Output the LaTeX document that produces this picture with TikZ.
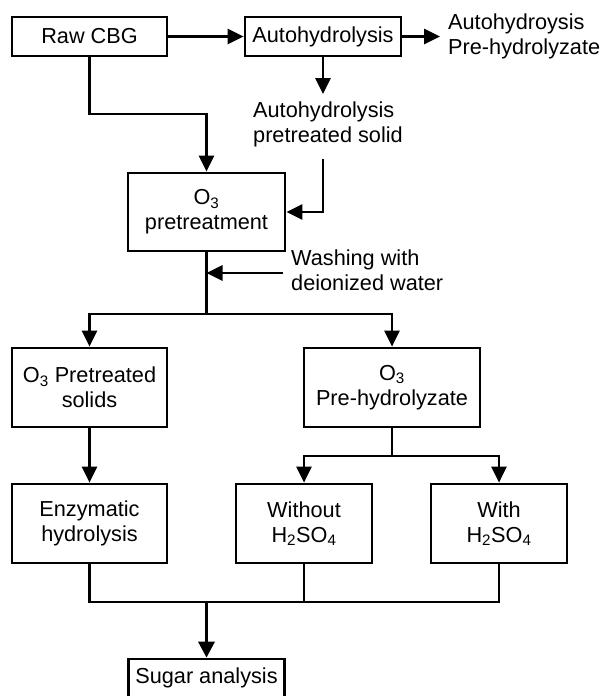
\documentclass[tikz,border=0pt]{standalone}
\usepackage{fontspec}
\setmainfont{Liberation Sans}
\usetikzlibrary{arrows.meta}
\newcommand{\chsub}[1]{\textsubscript{#1}}
\begin{document}
\begin{tikzpicture}[x=1pt,y=-1pt,
  every node/.style={font=\fontsize{21.7}{25}\selectfont},
  box/.style={draw, line width=2.7pt, inner sep=0pt, align=center},
  lbl/.style={inner sep=0pt, align=left, anchor=west},
  conn/.style={line width=2.7pt},
  arr/.style={conn, -{Triangle[length=16pt,width=15pt]}}]
\useasboundingbox (0,0) rectangle (604,696);
% boxes
\node[box, minimum width=155pt, minimum height=39pt] (raw) at (89.5,36.5) {Raw CBG};
\node[box, minimum width=156pt, minimum height=39pt] (auto) at (323,36.5) {Autohydrolysis};
\node[box, minimum width=157pt, minimum height=78pt] (o3) at (206.5,212) {O\chsub{3}\\pretreatment};
\node[box, minimum width=155pt, minimum height=79pt] (solids) at (89.5,387.5) {O\chsub{3} Pretreated\\solids};
\node[box, minimum width=176pt, minimum height=79pt] (prehyd) at (392,387.5) {O\chsub{3}\\Pre-hydrolyzate};
\node[box, minimum width=155pt, minimum height=79pt] (enz) at (89.5,523.5) {Enzymatic\\hydrolysis};
\node[box, minimum width=136pt, minimum height=79pt] (without) at (304,523.5) {Without\\H\chsub{2}SO\chsub{4}};
\node[box, minimum width=136pt, minimum height=79pt] (with) at (499,523.5) {With\\H\chsub{2}SO\chsub{4}};
\node[box, minimum width=156pt, minimum height=38pt] (sugar) at (206.5,678) {Sugar analysis};
% labels
\node[lbl] (ahp) at (448,36.5) {Autohydroysis\\Pre-hydrolyzate};
\node[lbl] (aps) at (253,124.5) {Autohydrolysis\\pretreated solid};
\node[lbl] (wash) at (291,270.5) {Washing with\\deionized water};
% coordinates
\coordinate (ahpend) at (440,36.5);
\coordinate (apsin) at (323,94);
\coordinate (apsout) at (323,159);
\coordinate (j1) at (206.5,114);
\coordinate (split1) at (206.5,314);
\coordinate (washstart) at (283,273);
\coordinate (washend) at (206.5,273);
\coordinate (split2) at (392,456);
\coordinate (j2) at (206.5,602);
% connectors
\draw[arr] (raw) -- (auto);
\draw[arr] (auto) -- (ahpend);
\draw[arr] (auto.south) -- (apsin);
\draw[arr] (apsout) |- (o3.east);
\draw[arr] (raw.south) |- (j1) -- (o3.north);
\draw[conn] (o3.south) -- (split1);
\draw[arr] (washstart) -- (washend);
\draw[arr] (split1) -| (solids.north);
\draw[arr] (split1) -| (prehyd.north);
\draw[arr] (solids) -- (enz);
\draw[conn] (prehyd.south) -- (split2);
\draw[arr] (split2) -| (without.north);
\draw[arr] (split2) -| (with.north);
\draw[conn] (enz.south) |- (j2) -| (with.south);
\draw[conn] (without.south) -- (without.south |- j2);
\draw[line width=3.4pt, -{Triangle[length=16pt,width=16pt]}] (j2) -- (sugar.north);
\end{tikzpicture}
\end{document}
